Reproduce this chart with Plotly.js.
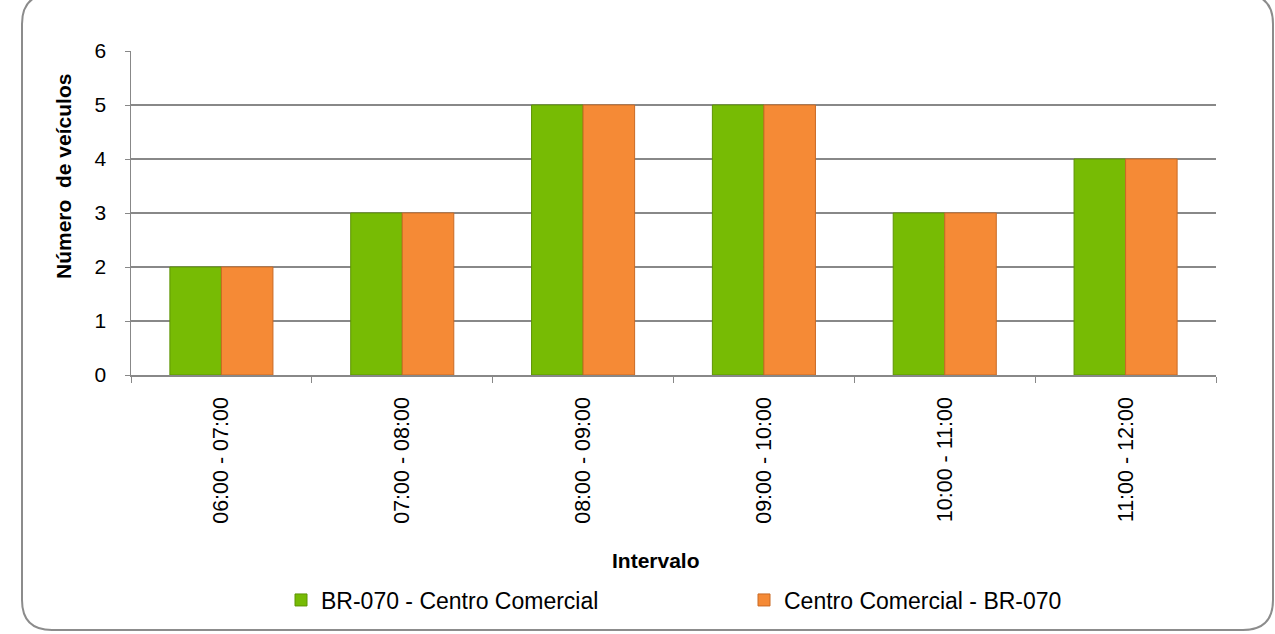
<!DOCTYPE html>
<html><head><meta charset="utf-8">
<script src="https://cdn.plot.ly/plotly-3.0.1.min.js"></script>
<style>html,body{margin:0;padding:0;background:#fff}#chart{width:1275px;height:634px}</style>
</head><body><div id="chart"></div>
<script>
const categories = ["06:00 - 07:00","07:00 - 08:00","08:00 - 09:00","09:00 - 10:00","10:00 - 11:00","11:00 - 12:00"];
const seriesNames = ["BR-070 - Centro Comercial","Centro Comercial - BR-070"];
const brToCentro = [2,3,5,5,3,4];
const centroToBr = [2,3,5,5,3,4];
const yTicks = [0,1,2,3,4,5,6];
const xTitle = "Intervalo";
const yTitle = "Número  de veículos";

const font = "'Liberation Sans', Arial, sans-serif";
const traces = [
  {type:'bar', name:seriesNames[0], x:categories, y:brToCentro, legend:'legend',
   marker:{color:'#77bb04', line:{color:'#5e9404', width:1}}},
  {type:'bar', name:seriesNames[1], x:categories, y:centroToBr, legend:'legend2',
   marker:{color:'#f58a36', line:{color:'#c96a25', width:1}}}
];
// frame
const L=131,R=1216,T=51,B=375,W=R-L,H=B-T;
const px=v=>(v-L)/W, py=v=>(B-v)/H;
const x0=px(22),x1=px(1273),y0=py(630),y1=py(-6);
const rx=30/W, ry=30/H;
const path=`M ${x0+rx} ${y1} L ${x1-rx} ${y1} Q ${x1} ${y1} ${x1} ${y1-ry} L ${x1} ${y0+ry} Q ${x1} ${y0} ${x1-rx} ${y0} L ${x0+rx} ${y0} Q ${x0} ${y0} ${x0} ${y0+ry} L ${x0} ${y1-ry} Q ${x0} ${y1} ${x0+rx} ${y1} Z`;

const legendBase = {orientation:'h', yanchor:'middle', y:py(600), xanchor:'left',
  font:{size:23, family:font}, itemwidth:30, bgcolor:'rgba(0,0,0,0)'};
const layout = {
  width:1275, height:634,
  margin:{l:L, r:1275-R, t:T, b:634-B},
  paper_bgcolor:'#fff', plot_bgcolor:'#fff',
  font:{family:font, color:'#000', size:19},
  barmode:'group', bargap:0.43, bargroupgap:0,
  showlegend:true,
  legend:Object.assign({}, legendBase, {x:px(281)}),
  legend2:Object.assign({}, legendBase, {x:px(744)}),
  xaxis:{type:'category', tickangle:-90, ticks:'outside', tickson:'boundaries', ticklen:6,
         tickcolor:'#888', showline:true, linecolor:'#888', linewidth:1.5, showgrid:false,
         tickfont:{size:21.5, family:font}, ticklabelstandoff:12},
  yaxis:{range:[0,6], tickvals:yTicks, ticks:'outside', ticklen:5, tickcolor:'#888',
         showline:true, linecolor:'#888', linewidth:1.5, showgrid:true, gridcolor:'#888', gridwidth:1.5,
         zeroline:false, tickfont:{size:21, family:font}, ticklabelstandoff:14},
  annotations:[
    {text:'<b>'+xTitle+'</b>', xref:'paper', yref:'paper', x:px(656), y:py(560), showarrow:false,
     xanchor:'center', yanchor:'middle', font:{size:21, family:font}},
    {text:'<b>'+yTitle+'</b>', xref:'paper', yref:'paper', x:px(63), y:py(177), showarrow:false,
     textangle:-90, xanchor:'center', yanchor:'middle', font:{size:21, family:font}}
  ],
  shapes:[{type:'path', xref:'paper', yref:'paper', path:path, line:{color:'#8c8c8c', width:2}, fillcolor:'rgba(0,0,0,0)', layer:'below'}]
};
Plotly.newPlot('chart', traces, layout, {displayModeBar:false, staticPlot:true});
</script></body></html>
